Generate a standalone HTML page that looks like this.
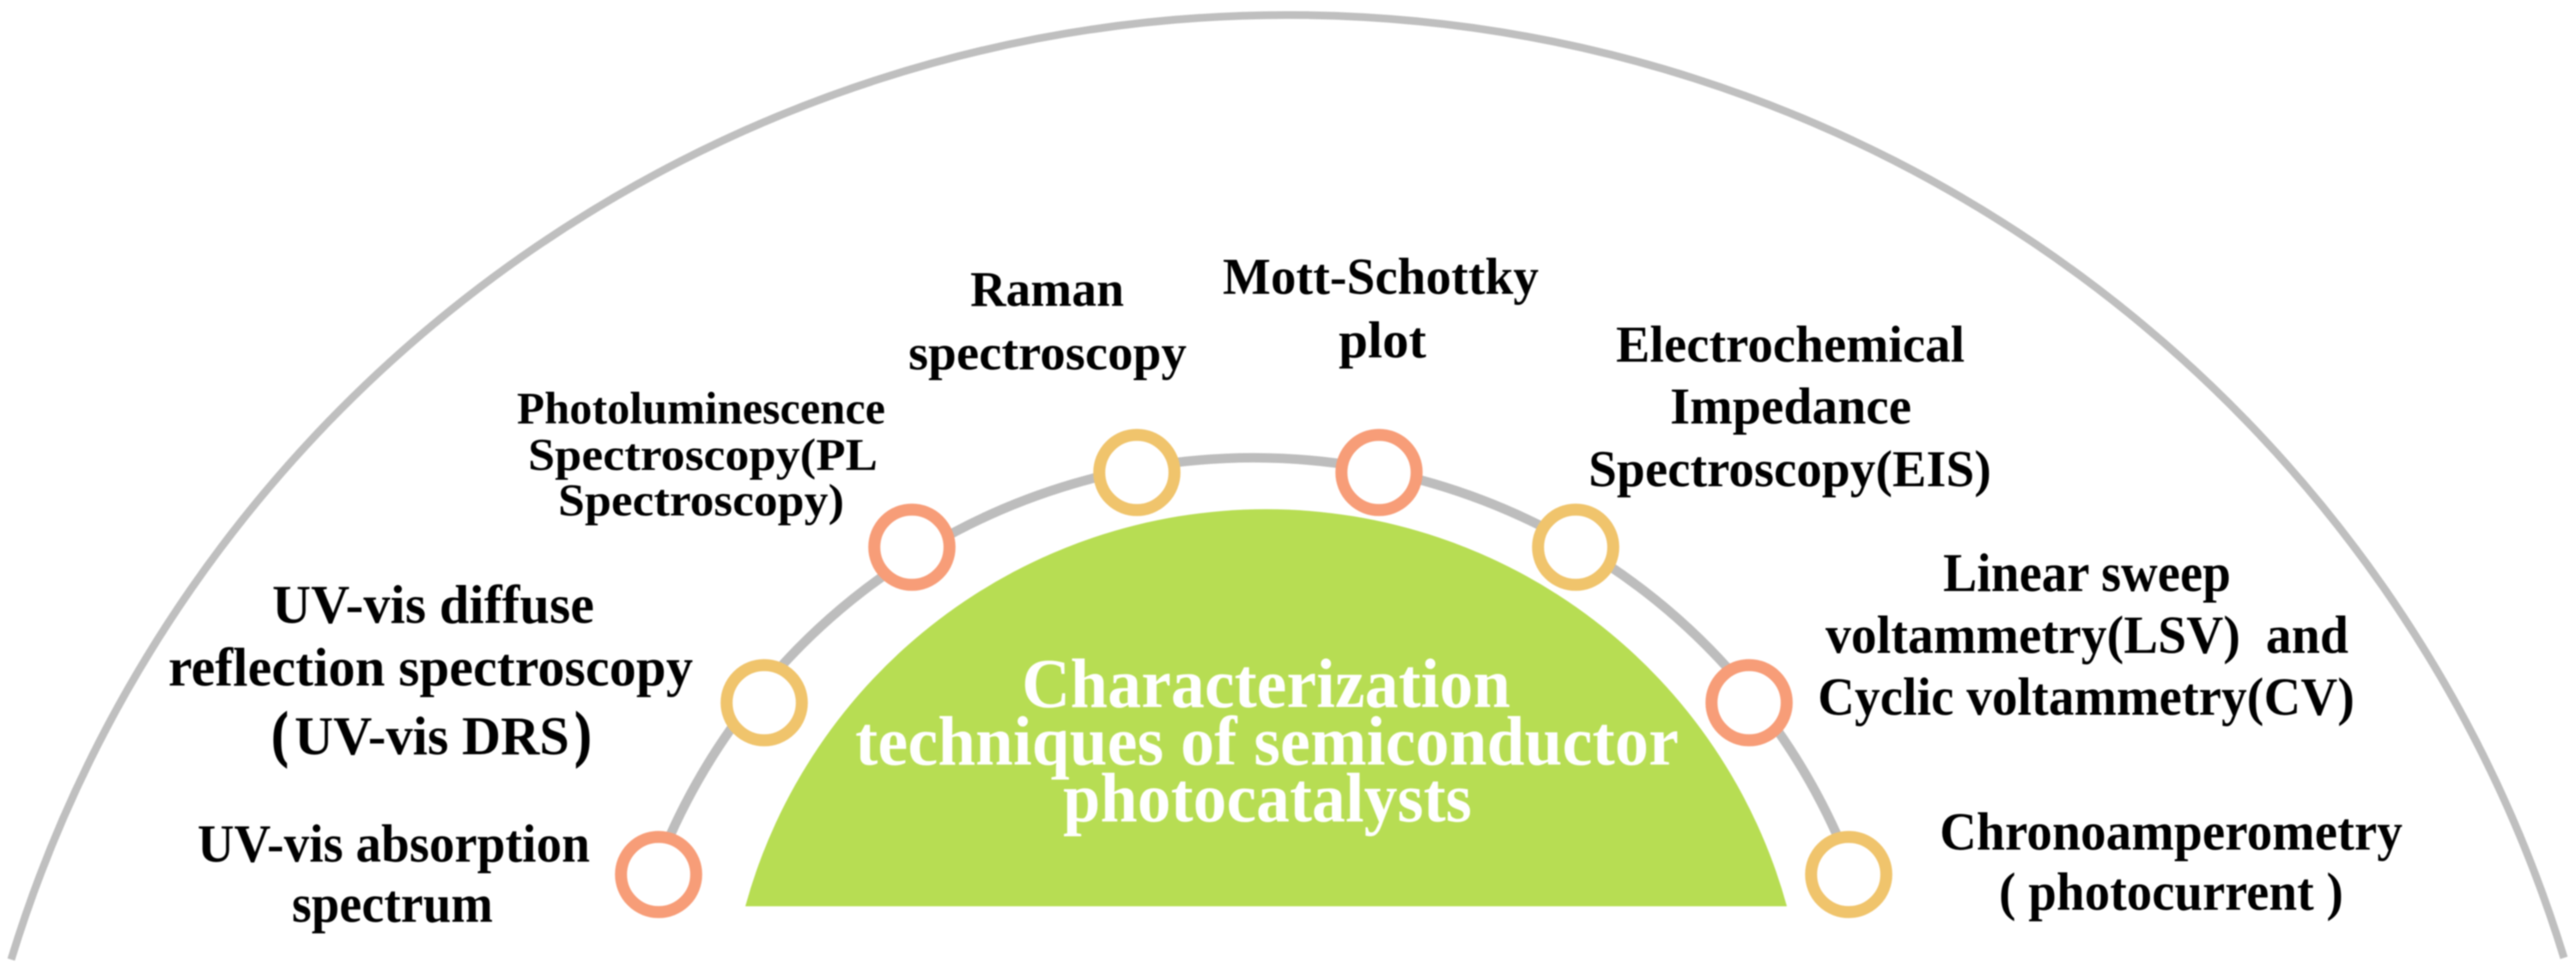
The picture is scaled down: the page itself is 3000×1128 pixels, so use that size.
<!DOCTYPE html>
<html><head><meta charset="utf-8"><style>
html,body{margin:0;padding:0;background:#fff}
svg{display:block;filter:blur(0.8px)}
text{font-family:"Liberation Serif",serif;font-weight:bold;fill:#000}
.w{fill:#fff;font-size:82px}
</style></head><body>
<svg width="3000" height="1128" viewBox="0 0 3000 1128" xmlns="http://www.w3.org/2000/svg">
<rect width="3000" height="1128" fill="#fff"/>
<path d="M13 1117 A1555 1555 0 0 1 2986 1115" fill="none" stroke="#bfbfbf" stroke-width="9"/>
<path d="M775 985 A745 745 0 0 1 2145 985" fill="none" stroke="#bdbdbd" stroke-width="11"/>
<path d="M868 1055 A629 629 0 0 1 2081 1055 Z" fill="#b7dd53"/>
<g fill="#fff" stroke-width="14">
<circle cx="767" cy="1018" r="43.8" stroke="#f79d78"/>
<circle cx="890" cy="818" r="43.8" stroke="#f0c46c"/>
<circle cx="1062" cy="637" r="43.8" stroke="#f79d78"/>
<circle cx="1324" cy="550" r="43.8" stroke="#f0c46c"/>
<circle cx="1606" cy="550" r="43.8" stroke="#f79d78"/>
<circle cx="1835" cy="637" r="43.8" stroke="#f0c46c"/>
<circle cx="2037" cy="818" r="43.8" stroke="#f79d78"/>
<circle cx="2153" cy="1018" r="43.8" stroke="#f0c46c"/>
</g>
<g>
<text x="1130" y="356" font-size="58" textLength="179" lengthAdjust="spacingAndGlyphs">Raman</text>
<text x="1058" y="430" font-size="58" textLength="324" lengthAdjust="spacingAndGlyphs">spectroscopy</text>
<text x="1424" y="342" font-size="60" textLength="368" lengthAdjust="spacingAndGlyphs">Mott-Schottky</text>
<text x="1559" y="416" font-size="60" textLength="102" lengthAdjust="spacingAndGlyphs">plot</text>
<text x="602" y="493" font-size="53" textLength="429" lengthAdjust="spacingAndGlyphs">Photoluminescence</text>
<text x="615" y="547" font-size="53" textLength="407" lengthAdjust="spacingAndGlyphs">Spectroscopy(PL</text>
<text x="650" y="600" font-size="53" textLength="333" lengthAdjust="spacingAndGlyphs">Spectroscopy)</text>
<text x="1882" y="421" font-size="60" textLength="406" lengthAdjust="spacingAndGlyphs">Electrochemical</text>
<text x="1945" y="493" font-size="60" textLength="281" lengthAdjust="spacingAndGlyphs">Impedance</text>
<text x="1850" y="566" font-size="60" textLength="469" lengthAdjust="spacingAndGlyphs">Spectroscopy(EIS)</text>
<text x="317" y="725" font-size="64" textLength="375" lengthAdjust="spacingAndGlyphs">UV-vis diffuse</text>
<text x="196" y="798" font-size="64" textLength="611" lengthAdjust="spacingAndGlyphs">reflection spectroscopy</text>
<text x="317" y="878" font-size="70" textLength="18" lengthAdjust="spacingAndGlyphs" stroke="#000" stroke-width="2.5">(</text>
<text x="343" y="878" font-size="64" textLength="320" lengthAdjust="spacingAndGlyphs">UV-vis DRS</text>
<text x="670" y="878" font-size="70" textLength="18" lengthAdjust="spacingAndGlyphs" stroke="#000" stroke-width="2.5">)</text>
<text x="230" y="1003" font-size="62" textLength="457" lengthAdjust="spacingAndGlyphs">UV-vis absorption</text>
<text x="340" y="1073" font-size="62" textLength="234" lengthAdjust="spacingAndGlyphs">spectrum</text>
<text x="2263" y="688" font-size="64" textLength="335" lengthAdjust="spacingAndGlyphs">Linear sweep</text>
<text x="2126" y="760" font-size="62" textLength="609" lengthAdjust="spacingAndGlyphs" xml:space="preserve">voltammetry(LSV)  and</text>
<text x="2117" y="832" font-size="62" textLength="625" lengthAdjust="spacingAndGlyphs">Cyclic voltammetry(CV)</text>
<text x="2259" y="989" font-size="62" textLength="539" lengthAdjust="spacingAndGlyphs">Chronoamperometry</text>
<text x="2328" y="1059" font-size="62" textLength="401" lengthAdjust="spacingAndGlyphs">( photocurrent )</text>
<text class="w" x="1190" y="823" textLength="569" lengthAdjust="spacingAndGlyphs">Characterization</text>
<text class="w" x="996" y="890" textLength="959" lengthAdjust="spacingAndGlyphs">techniques of semiconductor</text>
<text class="w" x="1238" y="956" textLength="476" lengthAdjust="spacingAndGlyphs">photocatalysts</text>
</g>
</svg>
</body></html>
